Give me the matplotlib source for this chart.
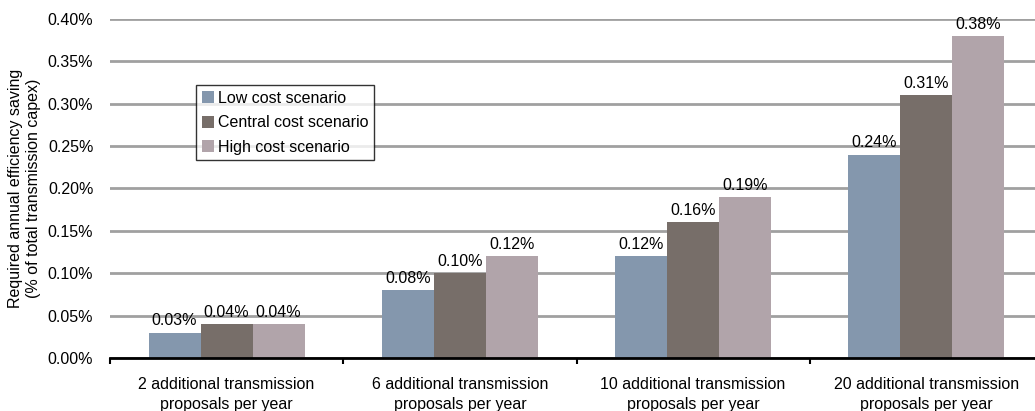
import matplotlib
matplotlib.use("Agg")
import matplotlib.pyplot as plt
import numpy as np
from matplotlib.ticker import FuncFormatter

plt.rcParams['font.family'] = ['Liberation Sans', 'DejaVu Sans']

# data
categories = ["2 additional transmission\nproposals per year",
              "6 additional transmission\nproposals per year",
              "10 additional transmission\nproposals per year",
              "20 additional transmission\nproposals per year"]
low_cost = [0.03, 0.08, 0.12, 0.24]
central_cost = [0.04, 0.10, 0.16, 0.31]
high_cost = [0.04, 0.12, 0.19, 0.38]
series_names = ["Low cost scenario", "Central cost scenario", "High cost scenario"]
colors = ["#8497ad", "#776e69", "#b1a4aa"]

fs = 11.5

fig = plt.figure(figsize=(10.35, 4.11), dpi=100)
ax = fig.add_axes([110 / 1035, 53 / 411, 933 / 1035, 339 / 411])

x = np.arange(len(categories))
w = 0.223
for i, (vals, name, c) in enumerate(zip([low_cost, central_cost, high_cost], series_names, colors)):
    pos = x + (i - 1) * w
    ax.bar(pos, vals, width=w, color=c, label=name, zorder=3)
    for p, v in zip(pos, vals):
        ax.annotate("%.2f%%" % v, (p, v), xytext=(0, 3), textcoords="offset points",
                    ha="center", va="bottom", fontsize=fs, zorder=4)

ax.set_ylim(0, 0.40)
ax.set_yticks(np.arange(0, 0.41, 0.05))
ax.yaxis.set_major_formatter(FuncFormatter(lambda v, _: "%.2f%%" % v))
ax.set_xlim(-0.5, 3.5)
ax.set_xticks(x)
ax.set_xticklabels(categories, fontsize=fs, linespacing=1.4)
ax.set_xticks(np.arange(-0.5, 4, 1), minor=True)
ax.tick_params(axis="x", which="major", length=0, pad=14)
ax.tick_params(axis="x", which="minor", length=4, width=1.5, direction="out")
ax.tick_params(axis="y", length=0, labelsize=fs, pad=12)

ax.grid(axis="y", color="#a0a0a0", linewidth=2, zorder=0)
for s in ["left", "right", "top"]:
    ax.spines[s].set_visible(False)
ax.spines["bottom"].set_linewidth(2)
ax.spines["bottom"].set_zorder(5)

ax.set_ylabel("Required annual efficiency saving\n(% of total transmission capex)",
              fontsize=fs, labelpad=5, linespacing=1.25)

leg = ax.legend(loc="upper left", bbox_to_anchor=(86 / 933, 1 - 66 / 339), fontsize=fs,
                frameon=True, fancybox=False, edgecolor="black", borderpad=0.35,
                handlelength=0.8, handleheight=0.8, handletextpad=0.2, labelspacing=0.6,
                borderaxespad=0)
leg.get_frame().set_linewidth(1)
leg.set_zorder(6)

fig.savefig("out.png", dpi=100)
